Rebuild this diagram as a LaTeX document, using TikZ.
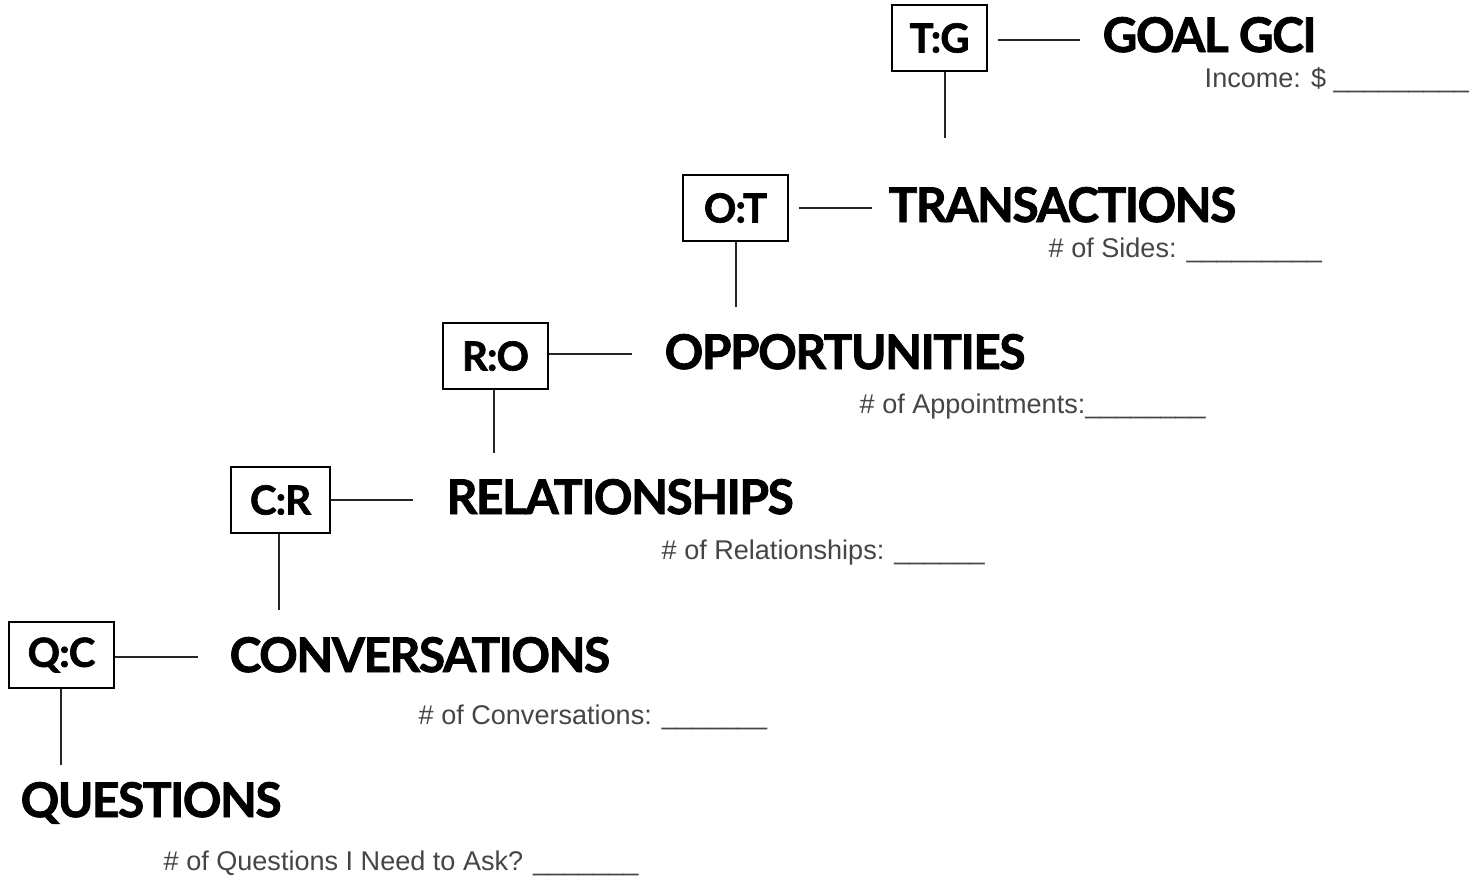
\documentclass[tikz,border=0pt]{standalone}
\usepackage{fontspec}
\usepackage{tikz}
\usetikzlibrary{positioning}
\newfontfamily\stagefont{Lato}[UprightFont=* Bold, FakeBold=1.7, LetterSpace=-3]
\newfontfamily\ratiofont{Lato}[UprightFont=* Bold, FakeBold=1.6, LetterSpace=-2]
\newfontfamily\countfont{Liberation Sans}
\definecolor{countgray}{HTML}{454545}
\tikzset{ratio/.style = {draw, line width=0.5pt, minimum width=1.05cm, minimum height=0.66cm,
                         inner sep=0, font=\ratiofont\fontsize{11.4}{12}\selectfont}}
\tikzset{stage/.style = {anchor=base west, inner sep=0, font=\stagefont\fontsize{13.6}{15}\selectfont}}
\tikzset{count/.style = {anchor=base west, inner sep=0, text=countgray, font=\countfont\fontsize{7.7}{8}\selectfont}}
\tikzset{link/.style = {draw=black!85, line width=0.42pt}}

\begin{document}
\begin{tikzpicture}
      \useasboundingbox (0, 0) rectangle (14.7, -8.83);
      % ratio boxes
      \node [ratio, minimum width=0.95cm] (tg) at (9.395, -0.38) {T:G};
      \node [ratio] (ot) at (7.355, -2.08) {O:T};
      \node [ratio] (ro) at (4.955, -3.56) {R:O};
      \node [ratio, minimum width=0.99cm] (cr) at (2.805, -5.00) {C:R};
      \node [ratio] (qc) at (0.615, -6.55) {Q:C};
      % stages
      \node [stage] (goal) at (11.02, -0.52) {GOAL GCI};
      \node [stage] (trans) at (8.88, -2.22) {TRANSACTIONS};
      \node [stage] (opp) at (6.64, -3.69) {OPPORTUNITIES};
      \node [stage] (rel) at (4.46, -5.14) {RELATIONSHIPS};
      \node [stage] (conv) at (2.29, -6.72) {CONVERSATIONS};
      \node [stage] (quest) at (0.20, -8.17) {QUESTIONS};
      % counts
      \node [count] (income) at (12.04, -0.87) {Income: \$ \_\_\_\_\_\_\_\_\_};
      \node [count] (sides) at (10.48, -2.57) {\# of Sides: \_\_\_\_\_\_\_\_\_};
      \node [count] (appts) at (8.59, -4.13) {\# of Appointments:\_\_\_\_\_\_\_\_};
      \node [count] (rels) at (6.61, -5.59) {\# of Relationships: \_\_\_\_\_\_};
      \node [count] (convs) at (4.18, -7.24) {\# of Conversations: \_\_\_\_\_\_\_};
      \node [count] (quests) at (1.63, -8.70) {\# of Questions I Need to Ask? \_\_\_\_\_\_\_};
      % line ends
      \coordinate (tg-r) at (10.80, -0.40);
      \coordinate (ot-r) at (8.72, -2.08);
      \coordinate (ro-r) at (6.32, -3.54);
      \coordinate (cr-r) at (4.13, -5.00);
      \coordinate (qc-r) at (1.98, -6.57);
      \coordinate (tg-d) at (9.45, -1.38);
      \coordinate (ot-d) at (7.36, -3.07);
      \coordinate (ro-d) at (4.94, -4.53);
      \coordinate (cr-d) at (2.79, -6.10);
      \coordinate (qc-d) at (0.61, -7.65);
      \draw [link] ([xshift=0.1cm]tg.east |- tg-r) -- (tg-r);
      \draw [link] ([xshift=0.1cm]ot.east |- ot-r) -- (ot-r);
      \draw [link] (ro.east |- ro-r) -- (ro-r);
      \draw [link] (cr.east |- cr-r) -- (cr-r);
      \draw [link] (qc.east |- qc-r) -- (qc-r);
      \draw [link] (tg.south -| tg-d) -- (tg-d);
      \draw [link] (ot.south -| ot-d) -- (ot-d);
      \draw [link] (ro.south -| ro-d) -- (ro-d);
      \draw [link] (cr.south -| cr-d) -- (cr-d);
      \draw [link] (qc.south -| qc-d) -- (qc-d);
    \end{tikzpicture}
\end{document}
